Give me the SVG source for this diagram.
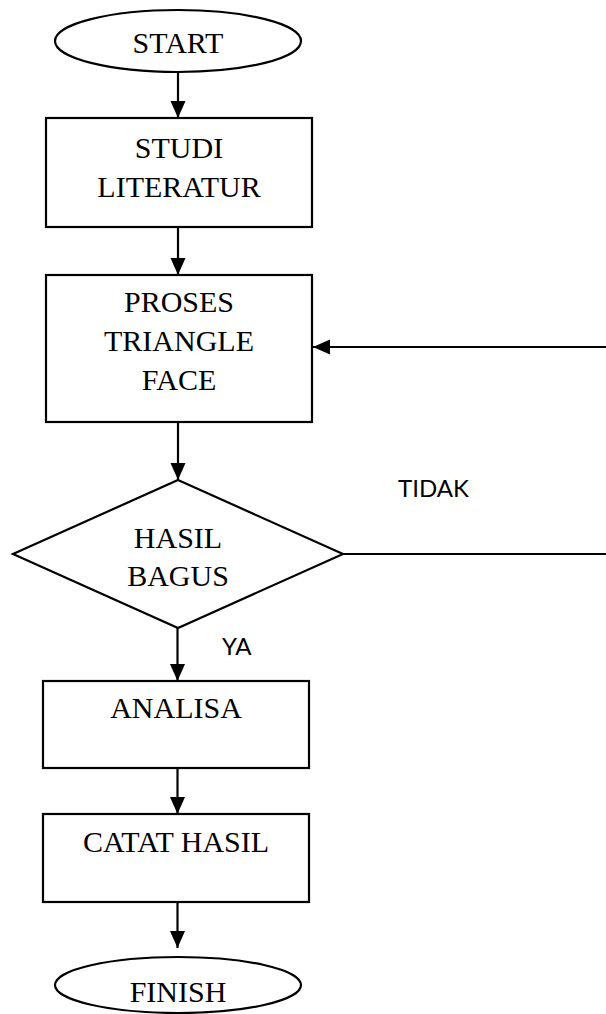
<svg xmlns="http://www.w3.org/2000/svg" width="606" height="1014" viewBox="0 0 606 1014">
<style>
.shape{fill:#fff;stroke:#000;stroke-width:2.2}
.lbl{font-family:"Liberation Serif","Times New Roman",serif;font-size:30px;fill:#000;text-anchor:middle}
.side{font-family:Lato,"Liberation Sans",sans-serif;font-size:24px;fill:#000}
.conn{stroke:#000;stroke-width:2.2;fill:none}
</style>
<defs>
<marker id="arr" markerUnits="userSpaceOnUse" markerWidth="18" markerHeight="16" refX="17" refY="8" orient="auto">
<path d="M0,0.5 L17,8 L0,15.5 Z" fill="#000"/>
</marker>
</defs>
<rect width="606" height="1014" fill="#fff"/>
<g id="connectors">
<line class="conn" x1="178" y1="72" x2="178" y2="118" marker-end="url(#arr)"/>
<line class="conn" x1="178" y1="227" x2="178" y2="275" marker-end="url(#arr)"/>
<line class="conn" x1="178" y1="422" x2="178" y2="480" marker-end="url(#arr)"/>
<line class="conn" x1="177.5" y1="628" x2="177.5" y2="681" marker-end="url(#arr)"/>
<line class="conn" x1="177.5" y1="768" x2="177.5" y2="814" marker-end="url(#arr)"/>
<line class="conn" x1="177.5" y1="902" x2="177.5" y2="948" marker-end="url(#arr)"/>
<line class="conn" x1="343" y1="554" x2="606" y2="554"/>
<line class="conn" x1="606" y1="347" x2="313" y2="347" marker-end="url(#arr)"/>
<text class="side" x="398" y="497">TIDAK</text>
<text class="side" x="222" y="655">YA</text>
</g>
<g id="start">
<ellipse class="shape" cx="178" cy="41" rx="123" ry="31"/>
<text class="lbl" x="178" y="53">START</text>
</g>
<g id="studi">
<rect class="shape" x="46" y="118" width="266" height="109"/>
<text class="lbl" x="179" y="158">STUDI</text>
<text class="lbl" x="179" y="197">LITERATUR</text>
</g>
<g id="proses">
<rect class="shape" x="46" y="275" width="266" height="147"/>
<text class="lbl" x="179" y="312">PROSES</text>
<text class="lbl" x="179" y="351">TRIANGLE</text>
<text class="lbl" x="179" y="390">FACE</text>
</g>
<g id="hasil">
<polygon class="shape" points="178,480 343,554 178,628 13,554"/>
<text class="lbl" x="178" y="548">HASIL</text>
<text class="lbl" x="178" y="586">BAGUS</text>
</g>
<g id="analisa">
<rect class="shape" x="43" y="681" width="266" height="87"/>
<text class="lbl" x="176" y="718">ANALISA</text>
</g>
<g id="catat">
<rect class="shape" x="43" y="814" width="266" height="88"/>
<text class="lbl" x="176" y="852">CATAT HASIL</text>
</g>
<g id="finish">
<ellipse class="shape" cx="178" cy="985" rx="123" ry="28"/>
<text class="lbl" x="178" y="1002">FINISH</text>
</g>
</svg>
